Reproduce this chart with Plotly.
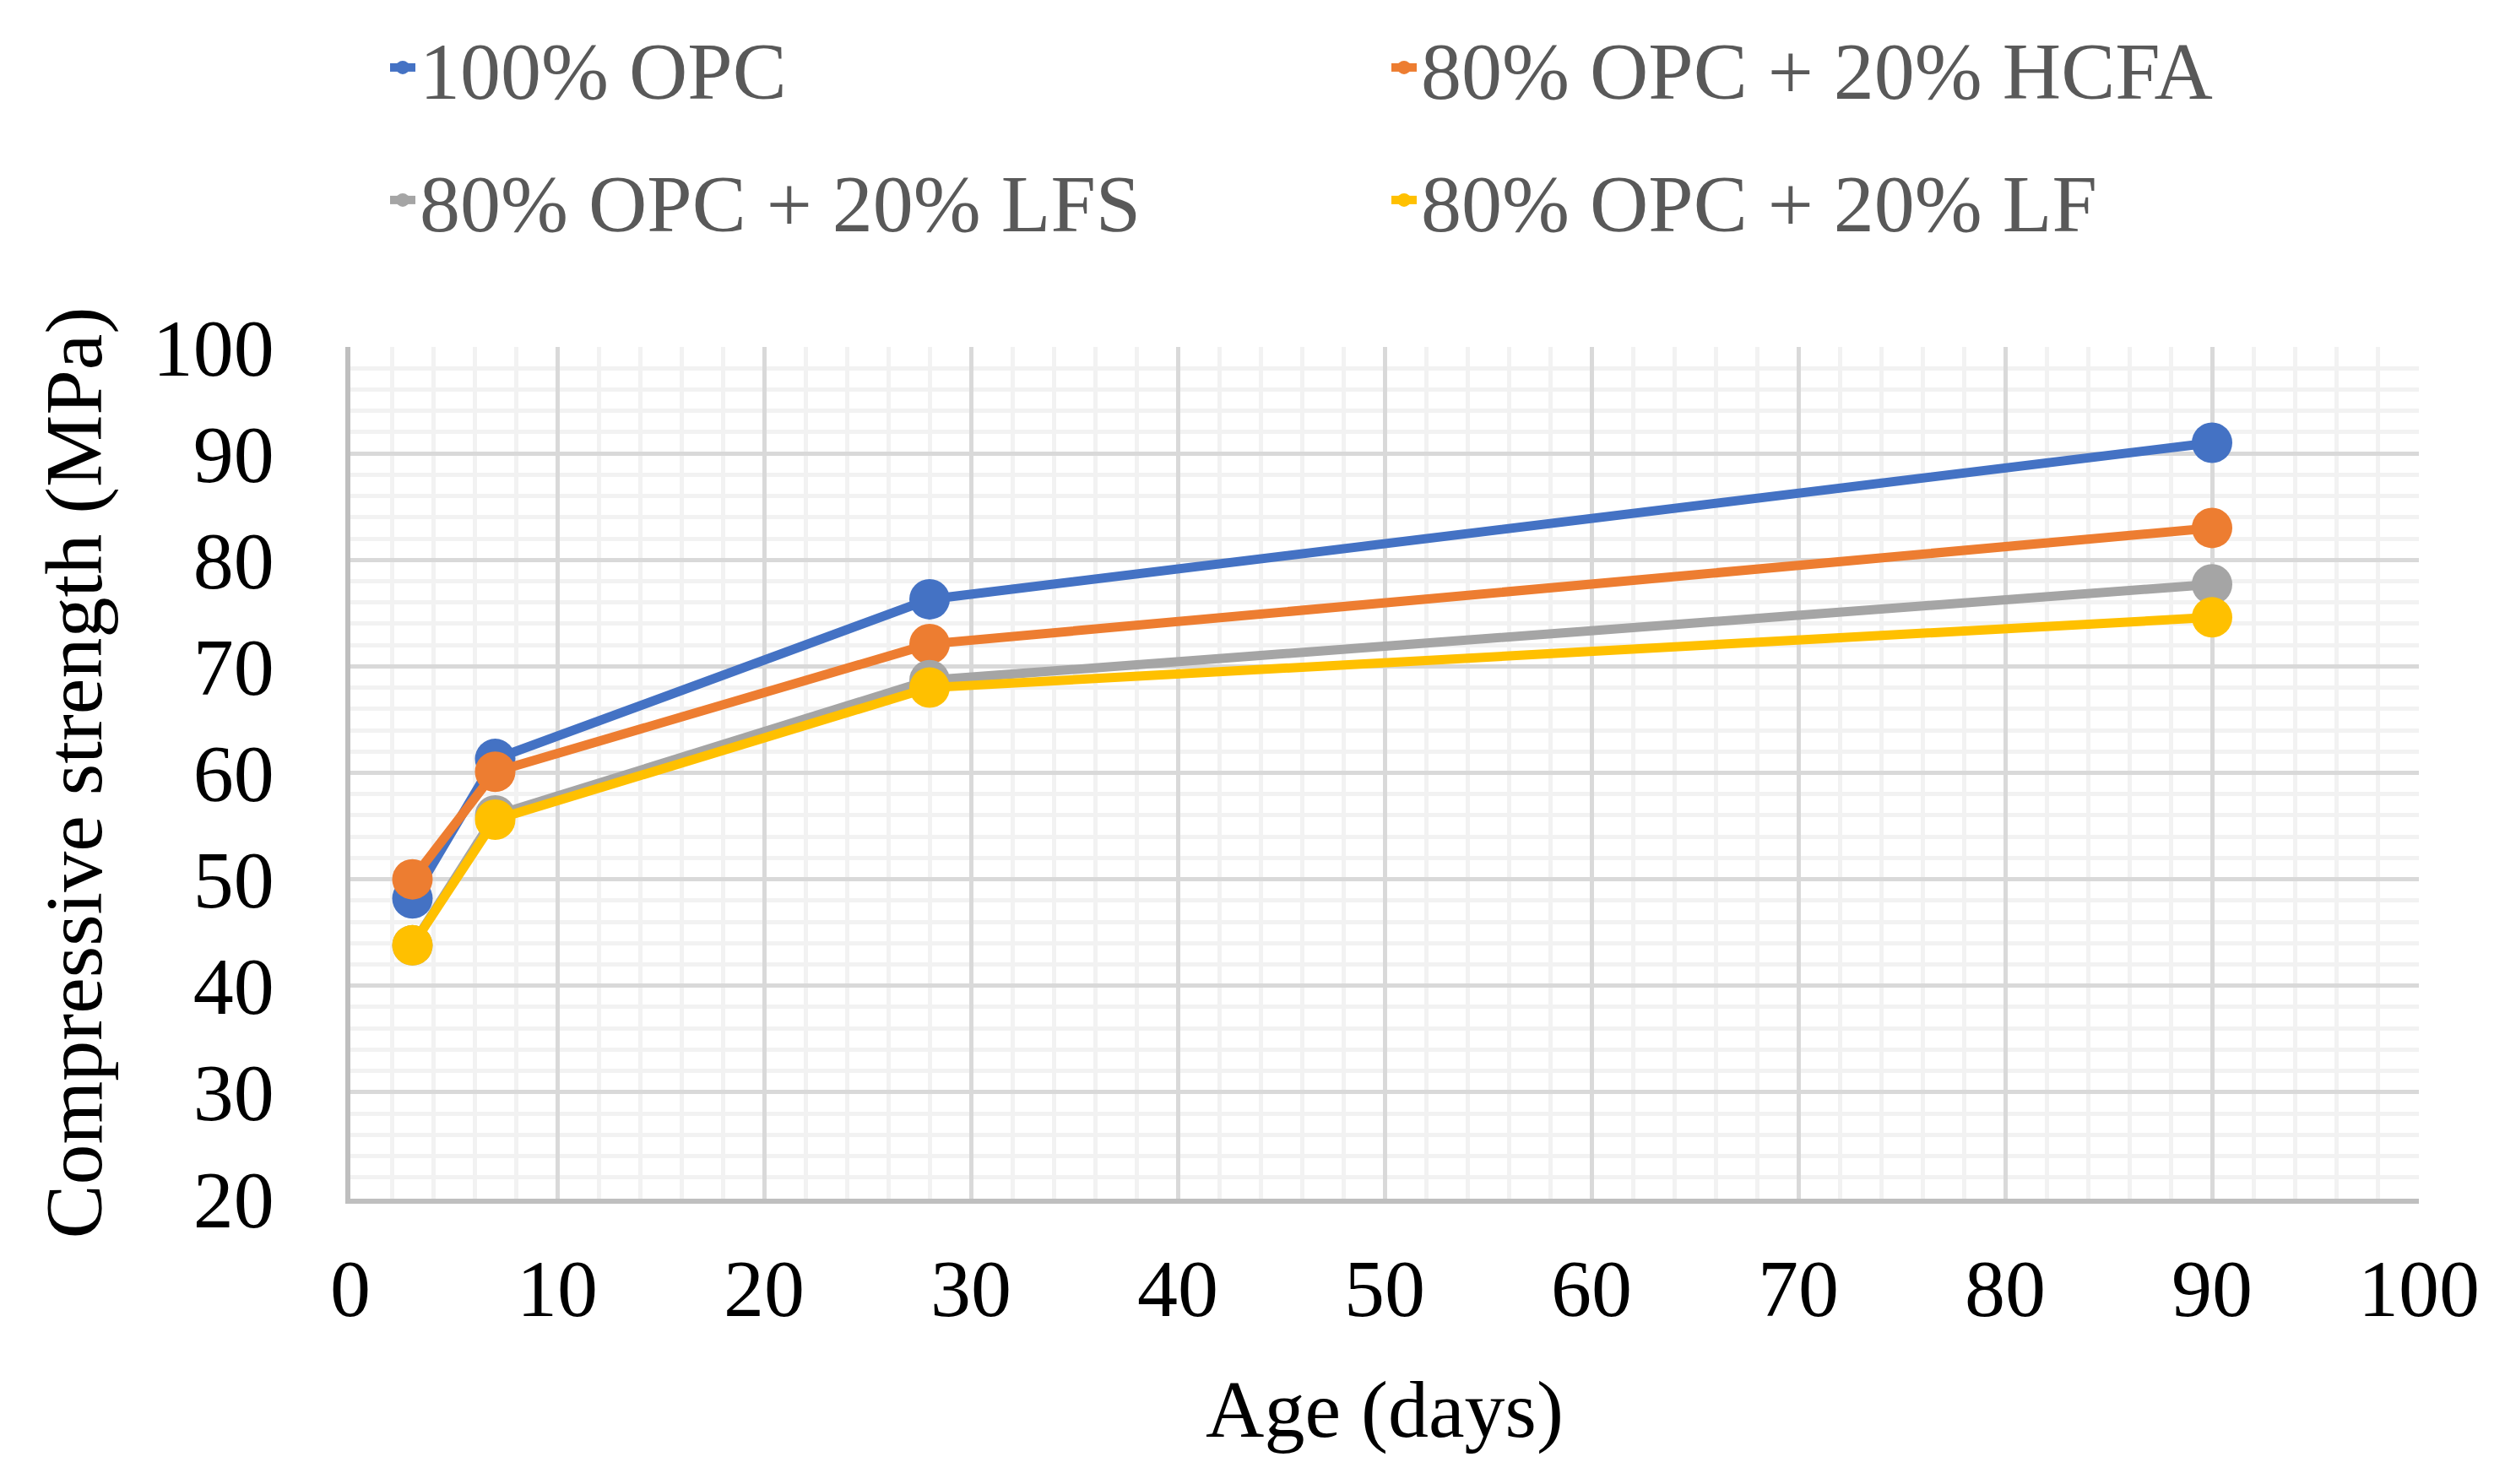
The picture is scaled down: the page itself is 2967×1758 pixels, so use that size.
import plotly.graph_objects as go

ages = [3, 7, 28, 90]
opc = [48.2, 61.3, 76.3, 91.0]
hcfa = [50.0, 60.1, 72.1, 83.0]
lfs = [43.8, 56.0, 68.7, 77.7]
lf = [43.8, 55.6, 68.0, 74.6]

names = ["100% OPC", "80% OPC + 20% HCFA", "80% OPC + 20% LFS", "80% OPC + 20% LF"]
series = [opc, hcfa, lfs, lf]
colors = ["#4472C4", "#ED7D31", "#A5A5A5", "#FFC000"]
legends = ["legend", "legend2", "legend3", "legend4"]
# legend anchor positions (container pixels): x of text start, y of row centre
leg_x = [449, 1635, 449, 1635]
leg_y = [72, 72, 229, 229]

FONT = "Liberation Serif, Times New Roman, serif"
FS = 96
W, H = 2967, 1758

fig = go.Figure()
for n, s, c, lg in zip(names, series, colors, legends):
    fig.add_trace(go.Scatter(
        x=ages, y=s, name=n, mode="lines+markers",
        line=dict(color=c, width=11),
        marker=dict(color=c, size=48),
        legend=lg,
    ))

legend_common = dict(
    orientation="h", xref="container", yref="container",
    xanchor="left", yanchor="middle",
    font=dict(family=FONT, size=FS, color="#595959"),
    bgcolor="rgba(0,0,0,0)", itemsizing="trace",
)
legend_layout = {}
for lg, lx, ly in zip(legends, leg_x, leg_y):
    legend_layout[lg] = dict(x=lx / W, y=1 - ly / H, **legend_common)

fig.update_layout(
    width=W, height=H,
    margin=dict(l=407, r=110, t=403, b=346, autoexpand=False),
    paper_bgcolor="white", plot_bgcolor="white",
    font=dict(family=FONT, size=FS, color="black"),
    showlegend=True,
    **legend_layout,
)

fig.update_xaxes(
    range=[0, 100], dtick=10, tick0=0,
    showline=True, linecolor="#BFBFBF", linewidth=6,
    showgrid=True, gridcolor="#D9D9D9", gridwidth=5,
    minor=dict(dtick=2, showgrid=True, gridcolor="#F2F2F2", gridwidth=5),
    zeroline=False, ticks="", ticklabelstandoff=18,
    tickfont=dict(family=FONT, size=FS, color="black"),
    title=dict(text="Age (days)", font=dict(family=FONT, size=FS, color="black"), standoff=58),
    automargin=False,
)
fig.update_yaxes(
    range=[20, 100], dtick=10, tick0=0,
    showline=True, linecolor="#BFBFBF", linewidth=6,
    showgrid=True, gridcolor="#D9D9D9", gridwidth=5,
    minor=dict(dtick=2, showgrid=True, gridcolor="#F2F2F2", gridwidth=5),
    zeroline=False, ticks="", ticklabelstandoff=65,
    tickfont=dict(family=FONT, size=FS, color="black"),
    title=dict(text="Compressive strength (MPa)", font=dict(family=FONT, size=FS, color="black"), standoff=30),
    automargin=False,
)

fig.write_html("out.html")
